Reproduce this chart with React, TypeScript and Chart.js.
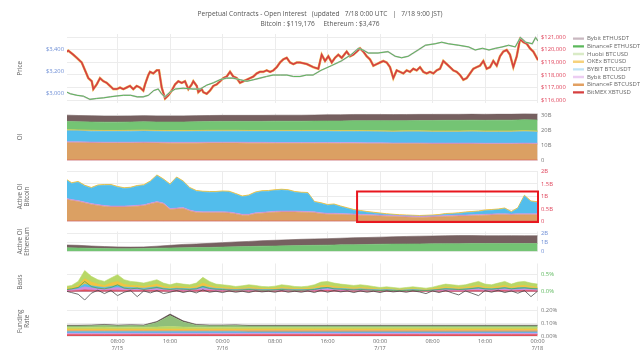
import React, { useEffect, useRef } from "react";
import { Chart, registerables } from "chart.js";

Chart.register(...registerables);

const FONT = "'Open Sans', 'DejaVu Sans', sans-serif";
const GRID = "#ececec";
const TXT = "#666";

const TITLE_LINES = [
  "Perpetual Contracts - Open Interest   (updated   7/18 0:00 UTC   |   7/18 9:00 JST)",
  "Bitcoin : $119,176     Ethereum : $3,476",
];

const X_MIN = 0.3;
const X_MAX = 72.07;
const X_TICKS = [8, 16, 24, 32, 40, 48, 56, 64, 72];
const X_LABELS: (string | string[])[] = [
  ["08:00", "7/15"], "16:00", ["00:00", "7/16"], "08:00", "16:00",
  ["00:00", "7/17"], "08:00", "16:00", ["00:00", "7/18"],
];

const HOURS = Array.from({ length: 73 }, (_, i) => i);
const HOURS2 = Array.from({ length: 37 }, (_, i) => i * 2);

const SERIES_NAMES = [
  "Bybit ETHUSDT", "BinanceF ETHUSDT", "Huobi BTCUSD", "OKEx BTCUSD",
  "BYBIT BTCUSDT", "Bybit BTCUSD", "BinanceF BTCUSDT", "BitMEX XBTUSD",
];

// ---- Price: Bitcoin (hours since 7/15 00:00 UTC, USD) ----
const BTC_HOURS = [
  0.26, 0.5, 1.26, 1.78, 2.54, 3.05, 3.55, 4.07, 4.31, 4.83, 5.33, 5.84, 6.35, 6.86, 7.36, 7.88,
  8.38, 8.88, 9.4, 9.9, 10.4, 10.92, 11.43, 11.93, 12.19, 12.69, 12.95, 13.45, 13.97, 14.32, 14.73,
  15.24, 15.74, 16.26, 16.76, 17.26, 17.78, 18.28, 18.79, 19.31, 19.55, 20.07, 20.31, 20.83, 21.07,
  21.59, 22.09, 22.6, 23.11, 23.62, 24.12, 24.64, 25.14, 25.64, 26.16, 26.66, 27.17, 27.69, 28.19,
  28.69, 29.21, 29.71, 30.21, 30.73, 31.24, 31.74, 32.26, 32.76, 33.26, 33.78, 34.28, 34.79, 35.3,
  35.81, 36.83, 37.83, 38.6, 39.11, 39.62, 40.12, 40.64, 41.14, 41.64, 42.16, 42.92, 43.43, 43.93,
  44.45, 44.95, 45.45, 45.97, 46.47, 46.98, 47.49, 48.0, 48.5, 49.02, 49.52, 50.02, 50.54, 51.04,
  51.55, 52.06, 52.57, 53.07, 53.59, 54.09, 54.6, 55.11, 55.61, 56.12, 56.63, 57.14, 57.64, 58.16,
  58.66, 59.17, 59.68, 60.19, 60.69, 61.2, 61.71, 62.21, 62.73, 63.23, 63.74, 64.25, 64.76, 65.26,
  65.78, 66.28, 66.78, 67.3, 67.8, 68.31, 68.83, 69.33, 69.84, 70.35, 70.85, 71.36, 72.07,
];
const BTC_PRICE = [
  119851, 119925, 119605, 119358, 118985, 118358, 117739, 117493, 116866, 117239, 117739, 117493,
  117366, 117119, 116866, 116866, 116993, 116866, 116993, 117119, 116866, 117119, 116993, 116746,
  117239, 117985, 118239, 118112, 118358, 118358, 116993, 116119, 116373, 116746, 117239, 117493,
  117366, 117493, 116866, 117239, 117493, 117119, 116619, 116866, 116619, 116493, 116746, 117119,
  117239, 117493, 117739, 117866, 118239, 117866, 117739, 117366, 117493, 117612, 117739, 117866,
  118112, 118239, 118239, 118358, 118239, 118358, 118612, 118985, 119231, 119358, 118985, 118858,
  118985, 118985, 118858, 118612, 118485, 119605, 119105, 119478, 118985, 119358, 119605, 119358,
  119851, 119478, 119605, 119851, 120105, 119851, 119478, 119231, 118731, 118858, 118985, 119105,
  118985, 118612, 117739, 118358, 118239, 118112, 118358, 118239, 118485, 118358, 118612, 118239,
  118112, 118239, 118112, 118358, 118485, 119105, 118858, 118612, 118358, 118239, 117985, 117612,
  117739, 118112, 118485, 118612, 118731, 119105, 118485, 118612, 119105, 118731, 119478, 119851,
  119978, 119605, 118612, 119478, 120851, 120597, 120478, 120105, 119851, 119176,
];

// ---- Price: Ethereum ----
const ETH_HOURS = [
  0.26, 0.8, 1.8, 2.8, 3.8, 4.8, 5.9, 6.9, 7.9, 8.9, 10, 11, 11.9, 12.7, 13.5, 14.2, 14.7, 15.2,
  16, 16.8, 18, 19.5, 20.6, 21.6, 22.6, 23.6, 24.6, 25.6, 26.7, 27.7, 28.7, 29.7, 30.7, 31.7, 32.8,
  33.8, 34.8, 35.8, 36.8, 37.8, 39, 40.6, 42.1, 43.6, 44.7, 45.4, 46.2, 47.7, 49.2, 50.3, 51.3,
  52.3, 53.8, 54.9, 56.4, 57.4, 58.4, 60, 61.5, 62.5, 63.6, 64.6, 65.6, 66.6, 67.6, 68.6, 69.4,
  70.2, 71.2, 71.7, 72.07,
];
const ETH_PRICE = [
  3009, 2994, 2980, 2972, 2943, 2951, 2957, 2966, 2974, 2980, 2980, 2966, 2966, 2980, 3023, 3037,
  2994, 2966, 3009, 3037, 3045, 3037, 3037, 3073, 3094, 3122, 3137, 3137, 3122, 3108, 3122, 3137,
  3152, 3165, 3165, 3165, 3152, 3152, 3165, 3165, 3208, 3251, 3294, 3351, 3409, 3394, 3366, 3366,
  3379, 3337, 3323, 3337, 3394, 3437, 3451, 3465, 3451, 3437, 3422, 3394, 3409, 3394, 3409, 3422,
  3437, 3422, 3508, 3465, 3451, 3508, 3476,
];

// ---- OI (billions USD, every 2h) ----
const OI_BITMEX = [
  0.3, 0.3, 0.3, 0.3, 0.3, 0.3, 0.3, 0.3, 0.3, 0.3, 0.3, 0.3, 0.3, 0.3, 0.3, 0.3, 0.3, 0.3, 0.3,
  0.3, 0.3, 0.3, 0.3, 0.3, 0.3, 0.3, 0.3, 0.3, 0.3, 0.3, 0.3, 0.3, 0.3, 0.3, 0.3, 0.3, 0.3,
];
const OI_BINANCE_BTC = [
  11.6, 11.5, 11.4, 11.3, 11.3, 11.3, 11.4, 11.3, 11.2, 11.2, 11.2, 11.3, 11.3, 11.3, 11.2, 11.2,
  11.1, 11.1, 11.1, 11.1, 11.1, 11.0, 11.0, 10.9, 10.9, 10.8, 10.8, 10.8, 10.7, 10.7, 10.7, 10.7,
  10.6, 10.6, 10.6, 10.7, 10.6,
];
const OI_BYBIT_BTCUSD = [
  0.6, 0.6, 0.6, 0.6, 0.6, 0.6, 0.6, 0.6, 0.6, 0.6, 0.6, 0.6, 0.6, 0.6, 0.6, 0.6, 0.6, 0.6, 0.6,
  0.6, 0.6, 0.6, 0.6, 0.6, 0.6, 0.6, 0.6, 0.6, 0.6, 0.6, 0.6, 0.6, 0.6, 0.6, 0.6, 0.6, 0.6,
];
const OI_BYBIT_BTCUSDT = [
  7.3, 7.3, 7.2, 7.2, 7.2, 7.3, 7.3, 7.2, 7.2, 7.2, 7.3, 7.3, 7.3, 7.3, 7.3, 7.3, 7.4, 7.4, 7.4,
  7.4, 7.4, 7.4, 7.4, 7.4, 7.3, 7.3, 7.4, 7.4, 7.4, 7.4, 7.4, 7.5, 7.5, 7.5, 7.5, 7.6, 7.5,
];
const OI_OKEX = [
  0.5, 0.5, 0.5, 0.5, 0.5, 0.5, 0.5, 0.5, 0.5, 0.5, 0.5, 0.5, 0.5, 0.5, 0.5, 0.5, 0.5, 0.5, 0.5,
  0.5, 0.5, 0.5, 0.5, 0.5, 0.5, 0.5, 0.5, 0.5, 0.5, 0.5, 0.5, 0.5, 0.5, 0.5, 0.5, 0.5, 0.5,
];
const OI_HUOBI = [
  0.1, 0.1, 0.1, 0.1, 0.1, 0.1, 0.1, 0.1, 0.1, 0.1, 0.1, 0.1, 0.1, 0.1, 0.1, 0.1, 0.1, 0.1, 0.1,
  0.1, 0.1, 0.1, 0.1, 0.1, 0.1, 0.1, 0.1, 0.1, 0.1, 0.1, 0.1, 0.1, 0.1, 0.1, 0.1, 0.1, 0.1,
];
const OI_BINANCE_ETH = [
  5.6, 5.5, 5.5, 5.5, 5.5, 5.5, 5.6, 5.6, 5.7, 5.7, 5.8, 5.8, 5.9, 5.9, 6.0, 6.0, 6.1, 6.1, 6.1,
  6.2, 6.3, 6.4, 6.6, 6.7, 6.8, 6.8, 6.8, 6.9, 7.0, 7.1, 7.1, 7.1, 7.1, 7.2, 7.2, 7.3, 7.3,
];
const OI_BYBIT_ETH = [
  4.2, 4.1, 4.1, 4.0, 4.0, 4.0, 4.0, 4.0, 4.0, 4.0, 4.0, 4.0, 4.0, 4.0, 4.0, 4.0, 4.0, 4.0, 4.0,
  4.0, 4.1, 4.1, 4.1, 4.1, 4.1, 4.1, 4.1, 4.1, 4.1, 4.1, 4.1, 4.1, 4.1, 4.1, 4.1, 4.1, 4.1,
];

// ---- Active OI Bitcoin (billions, hourly) ----
const ABTC_BITMEX = [
  0.02, 0.02, 0.02, 0.02, 0.02, 0.02, 0.02, 0.02, 0.02, 0.02, 0.02, 0.02, 0.02, 0.02, 0.02, 0.02,
  0.02, 0.02, 0.02, 0.02, 0.02, 0.02, 0.02, 0.02, 0.02, 0.02, 0.02, 0.02, 0.02, 0.02, 0.02, 0.02,
  0.02, 0.02, 0.02, 0.02, 0.02, 0.02, 0.02, 0.02, 0.02, 0.02, 0.02, 0.02, 0.02, 0.02, 0.02, 0.02,
  0.02, 0.02, 0.02, 0.02, 0.02, 0.02, 0.02, 0.02, 0.02, 0.02, 0.02, 0.02, 0.02, 0.02, 0.02, 0.02,
  0.02, 0.02, 0.02, 0.02, 0.02, 0.02, 0.02, 0.02, 0.02,
];
const ABTC_BINANCE = [
  0.88, 0.82, 0.78, 0.72, 0.66, 0.62, 0.58, 0.56, 0.56, 0.56, 0.57, 0.59, 0.61, 0.68, 0.74, 0.68,
  0.46, 0.48, 0.50, 0.40, 0.34, 0.33, 0.33, 0.33, 0.33, 0.32, 0.28, 0.23, 0.23, 0.29, 0.31, 0.33,
  0.35, 0.36, 0.36, 0.36, 0.35, 0.34, 0.33, 0.29, 0.27, 0.27, 0.26, 0.25, 0.24, 0.23, 0.22, 0.21,
  0.20, 0.19, 0.18, 0.17, 0.16, 0.15, 0.14, 0.15, 0.16, 0.17, 0.18, 0.19, 0.20, 0.20, 0.21, 0.22,
  0.23, 0.24, 0.25, 0.25, 0.24, 0.25, 0.25, 0.25, 0.25,
];
const ABTC_BYBIT_BTCUSD = [
  0.04, 0.04, 0.04, 0.04, 0.04, 0.04, 0.04, 0.04, 0.04, 0.04, 0.04, 0.04, 0.04, 0.04, 0.04, 0.04,
  0.04, 0.04, 0.04, 0.04, 0.04, 0.04, 0.04, 0.04, 0.04, 0.04, 0.04, 0.04, 0.04, 0.04, 0.04, 0.04,
  0.04, 0.04, 0.04, 0.04, 0.04, 0.04, 0.04, 0.04, 0.04, 0.04, 0.04, 0.04, 0.04, 0.04, 0.04, 0.04,
  0.04, 0.04, 0.04, 0.04, 0.04, 0.04, 0.04, 0.04, 0.04, 0.04, 0.04, 0.04, 0.04, 0.04, 0.04, 0.04,
  0.04, 0.04, 0.04, 0.04, 0.04, 0.04, 0.04, 0.04, 0.04,
];
const ABTC_BYBIT_BTCUSDT = [
  0.75, 0.64, 0.73, 0.64, 0.61, 0.75, 0.81, 0.83, 0.75, 0.70, 0.71, 0.76, 0.77, 0.85, 1.03, 0.93,
  0.95, 1.21, 1.03, 0.87, 0.81, 0.79, 0.78, 0.78, 0.80, 0.80, 0.75, 0.70, 0.74, 0.80, 0.83, 0.82,
  0.83, 0.84, 0.82, 0.75, 0.73, 0.73, 0.38, 0.37, 0.32, 0.34, 0.27, 0.21, 0.15, 0.12, 0.09, 0.07,
  0.05, 0.03, 0.02, 0.01, 0.01, 0.01, 0.01, 0.01, 0.01, 0.02, 0.05, 0.05, 0.06, 0.09, 0.10, 0.11,
  0.14, 0.15, 0.16, 0.20, 0.07, 0.21, 0.71, 0.48, 0.45,
];
const ABTC_OKEX = [
  0.03, 0.03, 0.03, 0.03, 0.03, 0.03, 0.03, 0.03, 0.03, 0.03, 0.03, 0.03, 0.03, 0.03, 0.03, 0.03,
  0.03, 0.03, 0.03, 0.03, 0.03, 0.03, 0.03, 0.03, 0.03, 0.03, 0.03, 0.03, 0.03, 0.03, 0.03, 0.03,
  0.03, 0.03, 0.03, 0.03, 0.03, 0.03, 0.03, 0.03, 0.03, 0.03, 0.03, 0.03, 0.03, 0.03, 0.03, 0.03,
  0.03, 0.03, 0.03, 0.03, 0.03, 0.03, 0.03, 0.03, 0.03, 0.03, 0.03, 0.03, 0.03, 0.03, 0.03, 0.03,
  0.03, 0.03, 0.03, 0.03, 0.03, 0.03, 0.03, 0.03, 0.03,
];

// ---- Active OI Ethereum (billions, every 2h) ----
const AETH_BINANCE = [
  0.42, 0.40, 0.36, 0.33, 0.32, 0.32, 0.34, 0.38, 0.40, 0.42, 0.44, 0.46, 0.50, 0.53, 0.56, 0.60,
  0.62, 0.65, 0.68, 0.70, 0.72, 0.75, 0.77, 0.79, 0.82, 0.84, 0.85, 0.86, 0.87, 0.88, 0.89, 0.90,
  0.90, 0.90, 0.90, 0.90, 0.90,
];
const AETH_BYBIT = [
  0.32, 0.30, 0.26, 0.23, 0.20, 0.18, 0.18, 0.22, 0.30, 0.38, 0.41, 0.46, 0.50, 0.55, 0.58, 0.62,
  0.65, 0.67, 0.70, 0.72, 0.73, 0.75, 0.78, 0.79, 0.80, 0.82, 0.85, 0.87, 0.88, 0.90, 0.91, 0.90,
  0.88, 0.88, 0.89, 0.88, 0.88,
];

// ---- Basis (%, hourly) ----
const BASIS_HUOBI = [
  0.15, 0.18, 0.30, 0.62, 0.45, 0.35, 0.30, 0.40, 0.50, 0.35, 0.30, 0.28, 0.25, 0.30, 0.35, 0.25,
  0.20, 0.25, 0.22, 0.20, 0.25, 0.42, 0.30, 0.22, 0.20, 0.18, 0.15, 0.17, 0.20, 0.18, 0.15, 0.14,
  0.16, 0.20, 0.18, 0.15, 0.14, 0.16, 0.20, 0.28, 0.30, 0.25, 0.22, 0.20, 0.18, 0.20, 0.18, 0.15,
  0.12, 0.14, 0.12, 0.10, 0.12, 0.14, 0.12, 0.10, 0.13, 0.18, 0.22, 0.20, 0.18, 0.20, 0.25, 0.30,
  0.22, 0.20, 0.25, 0.30, 0.22, 0.28, 0.30, 0.25, 0.22,
];
const BASIS_OKEX = [
  0.09, 0.11, 0.18, 0.38, 0.28, 0.22, 0.18, 0.25, 0.30, 0.21, 0.18, 0.17, 0.15, 0.18, 0.22, 0.15,
  0.12, 0.15, 0.13, 0.12, 0.15, 0.25, 0.18, 0.13, 0.12, 0.11, 0.09, 0.10, 0.12, 0.11, 0.09, 0.08,
  0.10, 0.12, 0.11, 0.09, 0.08, 0.10, 0.12, 0.17, 0.18, 0.15, 0.13, 0.12, 0.11, 0.12, 0.11, 0.09,
  0.07, 0.08, 0.07, 0.06, 0.07, 0.08, 0.07, 0.06, 0.08, 0.11, 0.13, 0.12, 0.11, 0.12, 0.15, 0.18,
  0.13, 0.12, 0.15, 0.18, 0.13, 0.17, 0.18, 0.15, 0.13,
];
const BASIS_BYBIT_USDT = [
  0.06, 0.07, 0.12, 0.22, 0.17, 0.14, 0.12, 0.15, 0.18, 0.13, 0.12, 0.11, 0.10, 0.12, 0.14, 0.10,
  0.08, 0.10, 0.09, 0.08, 0.10, 0.16, 0.12, 0.09, 0.08, 0.07, 0.06, 0.07, 0.08, 0.07, 0.06, 0.06,
  0.06, 0.08, 0.07, 0.06, 0.06, 0.06, 0.08, 0.11, 0.12, 0.10, 0.09, 0.08, 0.07, 0.08, 0.07, 0.06,
  0.05, 0.06, 0.05, 0.04, 0.05, 0.06, 0.05, 0.04, 0.05, 0.07, 0.09, 0.08, 0.07, 0.08, 0.10, 0.12,
  0.09, 0.08, 0.10, 0.12, 0.09, 0.11, 0.12, 0.10, 0.09,
];
const BASIS_BYBIT_USD = [
  0.04, 0.05, 0.08, 0.14, 0.11, 0.09, 0.08, 0.10, 0.12, 0.09, 0.08, 0.07, 0.07, 0.08, 0.09, 0.07,
  0.05, 0.07, 0.06, 0.05, 0.07, 0.10, 0.08, 0.06, 0.05, 0.05, 0.04, 0.05, 0.05, 0.05, 0.04, 0.04,
  0.04, 0.05, 0.05, 0.04, 0.04, 0.04, 0.05, 0.07, 0.08, 0.07, 0.06, 0.05, 0.05, 0.05, 0.05, 0.04,
  0.03, 0.04, 0.03, 0.03, 0.03, 0.04, 0.03, 0.03, 0.03, 0.05, 0.06, 0.05, 0.05, 0.05, 0.07, 0.08,
  0.06, 0.05, 0.07, 0.08, 0.06, 0.07, 0.08, 0.07, 0.06,
];
const BASIS_BITMEX = [
  0.02, 0.02, 0.03, 0.05, 0.04, 0.03, 0.03, 0.04, 0.04, 0.03, 0.03, 0.03, 0.03, 0.03, 0.03, 0.03,
  0.02, 0.03, 0.02, 0.02, 0.03, 0.04, 0.03, 0.02, 0.02, 0.02, 0.02, 0.02, 0.02, 0.02, 0.02, 0.02,
  0.02, 0.02, 0.02, 0.02, 0.02, 0.02, 0.02, 0.03, 0.03, 0.03, 0.02, 0.02, 0.02, 0.02, 0.02, 0.02,
  0.01, 0.02, 0.01, 0.01, 0.01, 0.02, 0.01, 0.01, 0.01, 0.02, 0.02, 0.02, 0.02, 0.02, 0.03, 0.03,
  0.02, 0.02, 0.03, 0.03, 0.02, 0.03, 0.03, 0.03, 0.02,
];
const BASIS_BINANCE_ETH = [
  0.05, 0.08, 0.12, 0.30, 0.15, 0.10, 0.08, 0.12, 0.20, 0.10, 0.08, 0.10, 0.06, 0.09, 0.12, 0.08,
  0.06, 0.08, 0.07, 0.06, 0.08, 0.15, 0.09, 0.07, 0.06, 0.05, 0.04, 0.05, 0.06, 0.05, 0.04, 0.04,
  0.05, 0.06, 0.05, 0.04, 0.04, 0.05, 0.06, 0.10, 0.12, 0.08, 0.07, 0.06, 0.05, 0.06, 0.05, 0.04,
  0.03, 0.04, 0.03, 0.03, 0.03, 0.04, 0.03, 0.03, 0.04, 0.06, 0.08, 0.07, 0.06, 0.07, 0.09, 0.11,
  0.08, 0.07, 0.09, 0.11, 0.08, 0.10, 0.11, 0.09, 0.08,
];
const BASIS_BYBIT_ETH = [
  0.02, -0.03, -0.08, -0.25, -0.05, 0.04, -0.06, 0.03, -0.12, -0.02, 0.03, -0.15, 0.02, -0.04, 0.03,
  -0.06, -0.02, 0.03, -0.03, 0.02, -0.04, 0.05, -0.02, 0.01, -0.03, 0.02, -0.02, 0.01, -0.03, 0.02,
  -0.01, 0.01, -0.02, 0.03, -0.02, 0.01, -0.02, 0.02, -0.03, 0.04, -0.02, 0.03, -0.01, 0.02, -0.03,
  0.02, -0.02, 0.01, -0.03, 0.02, -0.01, 0.01, -0.02, 0.02, -0.01, -0.06, 0.02, -0.03, 0.03, -0.04,
  -0.10, 0.02, -0.05, -0.12, 0.03, -0.02, 0.04, -0.03, 0.02, -0.05, 0.03, -0.15, 0.01,
];

// ---- Funding rate (%, every 2h, stacked) ----
const FR_BITMEX = [
  0.012, 0.012, 0.012, 0.012, 0.012, 0.012, 0.012, 0.012, 0.012, 0.012, 0.012, 0.012, 0.012,
  0.012, 0.012, 0.012, 0.012, 0.012, 0.012, 0.012, 0.012, 0.012, 0.012, 0.012, 0.012, 0.012,
  0.012, 0.012, 0.012, 0.012, 0.012, 0.012, 0.012, 0.012, 0.012, 0.012, 0.012,
];
const FR_BYBIT_BTCUSD = [
  0.010, 0.010, 0.010, 0.010, 0.010, 0.010, 0.010, 0.010, 0.010, 0.010, 0.010, 0.010, 0.010,
  0.010, 0.010, 0.010, 0.010, 0.010, 0.010, 0.010, 0.010, 0.010, 0.010, 0.010, 0.010, 0.010,
  0.010, 0.010, 0.010, 0.010, 0.010, 0.010, 0.010, 0.010, 0.010, 0.010, 0.010,
];
const FR_BYBIT_BTCUSDT = [
  0.012, 0.012, 0.012, 0.012, 0.012, 0.012, 0.012, 0.012, 0.012, 0.012, 0.012, 0.012, 0.012,
  0.012, 0.010, 0.010, 0.010, 0.010, 0.010, 0.010, 0.010, 0.010, 0.010, 0.010, 0.010, 0.010,
  0.010, 0.010, 0.010, 0.010, 0.010, 0.010, 0.010, 0.010, 0.010, 0.010, 0.010,
];
const FR_BINANCE_BTC = [
  0.008, 0.008, 0.008, 0.008, 0.008, 0.008, 0.008, 0.008, 0.008, 0.008, 0.008, 0.008, 0.008,
  0.008, 0.010, 0.010, 0.010, 0.010, 0.010, 0.010, 0.010, 0.010, 0.010, 0.010, 0.010, 0.010,
  0.010, 0.010, 0.010, 0.010, 0.010, 0.010, 0.010, 0.010, 0.010, 0.010, 0.010,
];
const FR_OKEX = [
  0.012, 0.012, 0.012, 0.012, 0.012, 0.012, 0.012, 0.012, 0.012, 0.012, 0.012, 0.012, 0.012,
  0.012, 0.012, 0.012, 0.012, 0.012, 0.012, 0.012, 0.012, 0.012, 0.012, 0.012, 0.012, 0.012,
  0.012, 0.012, 0.012, 0.012, 0.012, 0.012, 0.012, 0.012, 0.012, 0.012, 0.012,
];
const FR_BINANCE_ETH = [
  0.012, 0.012, 0.012, 0.014, 0.012, 0.013, 0.012, 0.035, 0.085, 0.040, 0.016, 0.013, 0.012,
  0.014, 0.012, 0.012, 0.012, 0.012, 0.012, 0.012, 0.012, 0.012, 0.012, 0.012, 0.012, 0.012,
  0.012, 0.012, 0.012, 0.012, 0.012, 0.012, 0.012, 0.012, 0.012, 0.012, 0.012,
];
const FR_HUOBI = [
  0.012, 0.012, 0.014, 0.016, 0.013, 0.015, 0.014, 0.016, 0.020, 0.016, 0.014, 0.013, 0.014,
  0.013, 0.012, 0.012, 0.012, 0.012, 0.012, 0.012, 0.012, 0.012, 0.012, 0.012, 0.012, 0.012,
  0.012, 0.012, 0.012, 0.012, 0.012, 0.012, 0.012, 0.012, 0.012, 0.012, 0.012,
];
const FR_BYBIT_ETH = [
  0.006, 0.006, 0.006, 0.006, 0.006, 0.006, 0.006, 0.008, 0.012, 0.008, 0.006, 0.006, 0.006,
  0.006, 0.006, 0.006, 0.006, 0.006, 0.006, 0.006, 0.006, 0.006, 0.006, 0.006, 0.006, 0.006,
  0.006, 0.006, 0.006, 0.006, 0.006, 0.006, 0.006, 0.006, 0.006, 0.006, 0.006,
];

const HL_BOX = { x0: 44.5, x1: 72.07, y0: -0.02, y1: 1.2 };

// ---------------- layout constants ----------------
const PLOT_L = 67;
const PLOT_R = 538;
const CW = 640;
const LEGEND_W = 68.7;

const COL = {
  bybitEth: "#766060",
  binanceEth: "#74c474",
  huobi: "#b8d867",
  okex: "#f2c443",
  bybitUsdt: "#52bdec",
  bybitUsd: "#cd8fe0",
  binanceBtc: "#dba063",
  bitmex: "#e0505a",
};

function pts(xs: number[], ys: number[]) {
  return xs.map((x, i) => ({ x, y: ys[i] }));
}

function xAxis(show: boolean) {
  return {
    type: "linear",
    min: X_MIN,
    max: X_MAX,
    afterBuildTicks: (s: any) => {
      s.ticks = X_TICKS.map((v) => ({ value: v }));
    },
    afterFit: (s: any) => {
      s.height = show ? 24 : 0;
    },
    grid: { color: GRID, drawTicks: false },
    border: { display: false },
    ticks: {
      display: show,
      autoSkip: false,
      maxRotation: 0,
      padding: 2.5,
      color: TXT,
      font: { family: FONT, size: 5.5, lineHeight: "6.6px" },
      callback: (v: number) => X_LABELS[X_TICKS.indexOf(v)] ?? "",
    },
  };
}

function leftAxis(title: string | string[], extra: any = {}) {
  return {
    position: "left",
    afterFit: (s: any) => {
      s.width = PLOT_L;
    },
    border: { display: false },
    grid: { drawOnChartArea: false, drawTicks: false },
    ticks: { display: false },
    title: {
      display: true,
      text: title,
      color: TXT,
      font: { family: FONT, size: 6.2, lineHeight: "7.3px" },
      padding: { top: 16.3, bottom: 0 },
    },
    ...extra,
  };
}

function rightAxis(o: {
  min: number; max: number; ticks: number[]; fmt: (v: number) => string;
  color: string; width?: number; stacked?: boolean;
}) {
  return {
    position: "right",
    min: o.min,
    max: o.max,
    stacked: o.stacked ?? false,
    afterBuildTicks: (s: any) => {
      s.ticks = o.ticks.map((v) => ({ value: v }));
    },
    afterFit: (s: any) => {
      s.width = o.width ?? CW - PLOT_R;
    },
    border: { display: false },
    grid: { color: GRID, drawTicks: false },
    ticks: {
      padding: 3,
      color: o.color,
      font: { family: FONT, size: 5.8 },
      callback: (v: number) => o.fmt(v),
    },
  };
}

function area(label: string, xs: number[], ys: number[], color: string, first: boolean, extra: any = {}) {
  return {
    label,
    data: pts(xs, ys),
    yAxisID: "y",
    borderColor: color,
    backgroundColor: color,
    borderWidth: 0.6,
    pointRadius: 0,
    fill: first ? "origin" : "-1",
    tension: 0,
    ...extra,
  };
}

function baseOptions(padTop: number, padBottom: number, scales: any, plugins: any = {}) {
  return {
    responsive: false,
    animation: false,
    events: [],
    layout: { padding: { top: padTop, bottom: padBottom, left: 0, right: 0 } },
    scales,
    plugins: { legend: { display: false }, tooltip: { enabled: false }, title: { display: false }, ...plugins },
  };
}

const fmtDollar = (v: number) => "$" + v.toLocaleString("en-US");
const fmtB = (v: number) => (v === 0 ? "0" : v + "B");
const fmtPct1 = (v: number) => v.toFixed(1) + "%";
const fmtPct2 = (v: number) => v.toFixed(2) + "%";

// ---------------- panel configs ----------------
function priceConfig() {
  const btc = (i: number, color: string, width: number, order: number) => ({
    label: SERIES_NAMES[i], data: pts(BTC_HOURS, BTC_PRICE), yAxisID: "yr",
    borderColor: color, backgroundColor: color, borderWidth: width, pointRadius: 0, order, fill: false,
  });
  const eth = (i: number, color: string, width: number, order: number) => ({
    label: SERIES_NAMES[i], data: pts(ETH_HOURS, ETH_PRICE), yAxisID: "yl",
    borderColor: color, backgroundColor: color, borderWidth: width, pointRadius: 0, order, fill: false,
  });
  return {
    type: "line",
    data: {
      datasets: [
        eth(0, "#c9b8c0", 1.6, 5),
        eth(1, "#5cb85c", 1.0, 4),
        btc(2, "#d9ebc6", 1.2, 10),
        btc(3, "#f6d27c", 2.6, 8),
        btc(4, "#bfe3f5", 1.2, 11),
        btc(5, "#eccdf2", 1.2, 12),
        btc(6, "#e2a062", 2.0, 7),
        btc(7, "#d63f3f", 1.5, 6),
      ],
    },
    options: {
      ...baseOptions(0, 4, {
        x: xAxis(false),
        yl: leftAxis("Price", {
          min: 2914, max: 3540,
          afterBuildTicks: (s: any) => { s.ticks = [3000, 3200, 3400].map((v) => ({ value: v })); },
          ticks: { display: true, padding: 3, color: "#6f8fd6", font: { family: FONT, size: 5.8 }, callback: (v: number) => fmtDollar(v) },
        }),
        yr: rightAxis({
          min: 115800, max: 121250, ticks: [116000, 117000, 118000, 119000, 120000, 121000],
          fmt: fmtDollar, color: "#e0455c", width: CW - PLOT_R - LEGEND_W,
        }),
      }),
      plugins: {
        tooltip: { enabled: false },
        title: {
          display: true,
          text: TITLE_LINES,
          color: "#555",
          font: { family: FONT, size: 6.6, weight: "normal", lineHeight: "10px" },
          padding: { top: 9, bottom: 5 },
        },
        legend: {
          display: true,
          position: "right",
          align: "start",
          fullSize: false,
          maxWidth: LEGEND_W,
          labels: {
            usePointStyle: true,
            pointStyle: "line",
            pointStyleWidth: 11,
            padding: 1.67,
            color: TXT,
            font: { family: FONT, size: 6 },
            sort: (a: any, b: any) => a.datasetIndex - b.datasetIndex,
            generateLabels: (chart: any) =>
              (Chart as any).defaults.plugins.legend.labels
                .generateLabels(chart)
                .map((l: any) => ({ ...l, lineWidth: 2.4, pointStyle: "line" })),
          },
        },
      },
    },
  };
}

function oiConfig() {
  const x = HOURS2;
  return {
    type: "line",
    data: {
      datasets: [
        area("BitMEX XBTUSD", x, OI_BITMEX, COL.bitmex, true),
        area("BinanceF BTCUSDT", x, OI_BINANCE_BTC, COL.binanceBtc, false),
        area("Bybit BTCUSD", x, OI_BYBIT_BTCUSD, COL.bybitUsd, false),
        area("BYBIT BTCUSDT", x, OI_BYBIT_BTCUSDT, COL.bybitUsdt, false),
        area("OKEx BTCUSD", x, OI_OKEX, COL.okex, false),
        area("Huobi BTCUSD", x, OI_HUOBI, COL.huobi, false),
        area("BinanceF ETHUSDT", x, OI_BINANCE_ETH, COL.binanceEth, false),
        area("Bybit ETHUSDT", x, OI_BYBIT_ETH, COL.bybitEth, false),
      ],
    },
    options: baseOptions(5, 5, {
      x: xAxis(false),
      yl: leftAxis("OI"),
      y: rightAxis({ min: 0, max: 31.25, ticks: [0, 10, 20, 30], fmt: fmtB, color: "#777", stacked: true }),
    }),
  };
}

const hlPlugin = {
  id: "hlbox",
  afterDatasetsDraw(chart: any) {
    const { ctx, scales } = chart;
    const x0 = scales.x.getPixelForValue(HL_BOX.x0);
    const x1 = scales.x.getPixelForValue(HL_BOX.x1);
    const y0 = scales.y.getPixelForValue(HL_BOX.y0);
    const y1 = scales.y.getPixelForValue(HL_BOX.y1);
    ctx.save();
    ctx.strokeStyle = "#e8161e";
    ctx.lineWidth = 2;
    ctx.strokeRect(x0, y1, x1 - x0, y0 - y1);
    ctx.restore();
  },
};

function abtcConfig() {
  const x = HOURS;
  return {
    type: "line",
    data: {
      datasets: [
        area("BitMEX XBTUSD", x, ABTC_BITMEX, COL.bitmex, true),
        area("BinanceF BTCUSDT", x, ABTC_BINANCE, COL.binanceBtc, false),
        area("Bybit BTCUSD", x, ABTC_BYBIT_BTCUSD, COL.bybitUsd, false),
        area("BYBIT BTCUSDT", x, ABTC_BYBIT_BTCUSDT, COL.bybitUsdt, false),
        area("OKEx BTCUSD", x, ABTC_OKEX, COL.okex, false, { borderWidth: 1 }),
      ],
    },
    options: baseOptions(5, 5, {
      x: xAxis(false),
      yl: leftAxis(["Active OI", "Bitcoin"]),
      y: rightAxis({ min: 0, max: 2, ticks: [0, 0.5, 1, 1.5, 2], fmt: fmtB, color: "#e0455c", stacked: true }),
    }),
    plugins: [hlPlugin],
  };
}

function aethConfig() {
  const x = HOURS2;
  return {
    type: "line",
    data: {
      datasets: [
        area("BinanceF ETHUSDT", x, AETH_BINANCE, COL.binanceEth, true),
        area("Bybit ETHUSDT", x, AETH_BYBIT, COL.bybitEth, false),
      ],
    },
    options: baseOptions(5, 5, {
      x: xAxis(false),
      yl: leftAxis(["Active OI", "Ethereum"]),
      y: rightAxis({ min: 0, max: 2.26, ticks: [0, 1, 2], fmt: fmtB, color: "#6f8fd6", stacked: true }),
    }),
  };
}

function basisConfig() {
  const x = HOURS;
  const fillDs = (label: string, ys: number[], color: string, order: number) => ({
    label, data: pts(x, ys), yAxisID: "y", borderColor: color, backgroundColor: color, borderWidth: 0.6,
    pointRadius: 0, fill: "origin", order,
  });
  const lineDs = (label: string, ys: number[], color: string, order: number) => ({
    label, data: pts(x, ys), yAxisID: "y", borderColor: color, borderWidth: 0.8,
    pointRadius: 0, fill: false, order,
  });
  return {
    type: "line",
    data: {
      datasets: [
        fillDs("Huobi BTCUSD", BASIS_HUOBI, COL.huobi, 8),
        fillDs("OKEx BTCUSD", BASIS_OKEX, COL.okex, 7),
        fillDs("BYBIT BTCUSDT", BASIS_BYBIT_USDT, COL.bybitUsdt, 6),
        fillDs("Bybit BTCUSD", BASIS_BYBIT_USD, COL.bybitUsd, 5),
        fillDs("BitMEX XBTUSD", BASIS_BITMEX, COL.bitmex, 4),
        lineDs("BinanceF ETHUSDT", BASIS_BINANCE_ETH, "#4fa84f", 2),
        lineDs("Bybit ETHUSDT", BASIS_BYBIT_ETH, "#4a4a4a", 1),
      ],
    },
    options: baseOptions(5, 5, {
      x: xAxis(false),
      yl: leftAxis("Basis"),
      y: rightAxis({ min: -0.265, max: 0.83, ticks: [0, 0.5], fmt: fmtPct1, color: "#5cb85c" }),
    }),
  };
}

function fundingConfig() {
  const x = HOURS2;
  return {
    type: "line",
    data: {
      datasets: [
        area("BitMEX XBTUSD", x, FR_BITMEX, COL.bitmex, true),
        area("Bybit BTCUSD", x, FR_BYBIT_BTCUSD, COL.bybitUsd, false),
        area("BYBIT BTCUSDT", x, FR_BYBIT_BTCUSDT, COL.bybitUsdt, false),
        area("BinanceF BTCUSDT", x, FR_BINANCE_BTC, COL.binanceBtc, false),
        area("OKEx BTCUSD", x, FR_OKEX, COL.okex, false),
        area("Huobi BTCUSD", x, FR_HUOBI, COL.huobi, false),
        area("BinanceF ETHUSDT", x, FR_BINANCE_ETH, "#8fbf7a", false),
        area("Bybit ETHUSDT", x, FR_BYBIT_ETH, "#5a4848", false),
      ],
    },
    options: baseOptions(5, 0, {
      x: xAxis(true),
      yl: leftAxis(["Funding", "Rate"]),
      y: rightAxis({
        min: 0, max: 0.23, ticks: [0, 0.05, 0.1, 0.15, 0.2], fmt: fmtPct2, color: "#777", stacked: true,
      }),
    }),
  };
}

type PanelProps = { top: number; height: number; make: () => any; fixLegend?: boolean };

function Panel({ top, height, make, fixLegend }: PanelProps) {
  const ref = useRef<HTMLCanvasElement | null>(null);
  useEffect(() => {
    if (!ref.current) return;
    const chart: any = new Chart(ref.current, make());
    if (fixLegend && chart.legend) {
      const lg = chart.legend;
      const orig = lg.fit.bind(lg);
      lg.fit = () => {
        orig();
        lg.width = LEGEND_W;
      };
      chart.update();
    }
    return () => chart.destroy();
  }, []);
  return (
    <canvas
      ref={ref}
      width={CW}
      height={height}
      style={{ position: "absolute", left: 0, top, width: CW, height }}
    />
  );
}

export default function App() {
  // plot areas: price 34-105, OI 112-162, ABTC 169.5-222.7, AETH 230-253.3, basis 262-302, funding 305-336
  return (
    <div style={{ position: "fixed", left: 0, top: 0, width: 640, height: 360, background: "#fff", overflow: "hidden" }}>
      <Panel top={0} height={109} make={priceConfig} fixLegend />
      <Panel top={107} height={60} make={oiConfig} />
      <Panel top={164.5} height={63.2} make={abtcConfig} />
      <Panel top={225} height={33.3} make={aethConfig} />
      <Panel top={257} height={50} make={basisConfig} />
      <Panel top={300} height={60} make={fundingConfig} />
    </div>
  );
}
